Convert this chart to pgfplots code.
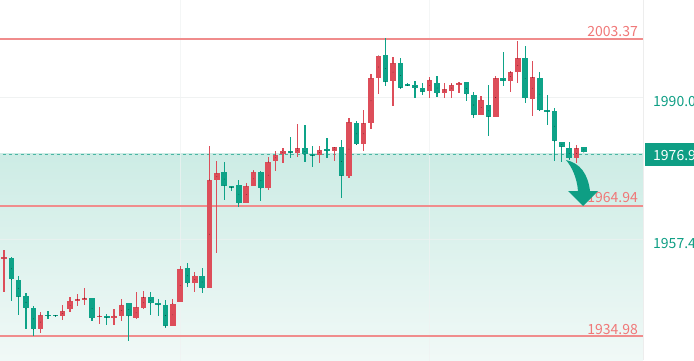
\documentclass[border=0pt]{standalone}
\usepackage{pgfplots}
\pgfplotsset{compat=1.18}
\usepackage{pgfplotstable}
\usepackage{fontspec}
\setmainfont{Noto Sans CJK SC}
\definecolor{cred}{RGB}{221,78,90}
\definecolor{cgreen}{RGB}{14,163,136}
\definecolor{lvl}{RGB}{240,140,140}
\definecolor{lvltxt}{RGB}{240,120,120}
\definecolor{teal1}{RGB}{14,158,132}
\definecolor{shtop}{RGB}{205,236,229}
\definecolor{shbot}{RGB}{241,249,247}
\definecolor{gridc}{RGB}{240,242,242}

\pgfplotstableread{
i o h l c
0 1952.64 1954.78 1945.18 1953.10
5 1936.59 1940.58 1935.60 1939.82
8 1939.66 1942.19 1938.67 1940.74
9 1941.13 1943.96 1940.51 1943.04
10 1943.11 1944.58 1941.89 1943.43
11 1943.43 1945.97 1942.12 1943.73
13 1939.36 1941.73 1937.82 1939.66
15 1939.13 1941.13 1937.58 1939.59
16 1939.59 1943.43 1938.51 1942.12
18 1939.06 1945.18 1938.90 1941.59
19 1941.36 1945.41 1941.20 1943.89
23 1937.29 1943.43 1937.29 1942.42
24 1942.88 1951.10 1942.74 1950.41
26 1947.12 1949.79 1945.18 1948.87
28 1945.97 1978.73 1945.97 1970.90
29 1970.90 1975.28 1954.02 1972.45
33 1965.54 1970.14 1965.54 1969.52
34 1969.59 1973.21 1969.52 1972.75
36 1968.99 1976.13 1968.60 1975.05
37 1975.35 1977.58 1973.04 1976.66
38 1976.82 1978.20 1974.75 1977.65
40 1977.05 1983.73 1976.27 1978.20
43 1976.66 1978.73 1974.75 1977.81
45 1977.65 1978.43 1975.35 1978.43
47 1971.89 1985.11 1971.29 1984.19
49 1979.12 1987.02 1977.65 1983.96
50 1983.96 1995.24 1982.58 1994.32
51 1994.32 1999.52 1990.64 1999.52
53 1993.77 1999.16 1988.01 1997.77
58 1991.47 1994.55 1989.72 1993.93
60 1991.00 1993.31 1989.85 1991.79
61 1991.40 1993.31 1989.72 1992.78
62 1992.78 1993.54 1990.87 1993.17
65 1985.87 1990.25 1985.87 1989.32
67 1985.48 1994.85 1985.48 1994.32
69 1993.77 1996.07 1991.10 1995.70
70 1995.70 2002.91 1993.17 1998.93
72 1989.55 1998.30 1985.71 1994.55
78 1975.90 1978.96 1974.75 1978.20
}\redtab

\pgfplotstableread{
i o h l c
1 1952.87 1953.10 1943.11 1948.04
2 1947.95 1948.80 1939.82 1944.03
3 1944.19 1944.81 1936.53 1941.36
4 1941.36 1941.89 1935.05 1936.53
6 1939.89 1940.74 1938.83 1939.59
7 1939.89 1939.93 1939.52 1939.59
12 1943.66 1943.80 1938.44 1939.06
14 1939.52 1940.05 1937.52 1939.20
17 1942.51 1942.51 1933.90 1939.59
20 1943.89 1945.11 1939.82 1942.51
21 1942.51 1943.43 1939.59 1942.12
22 1942.12 1943.27 1936.76 1937.29
25 1950.57 1951.72 1946.33 1947.12
27 1948.87 1950.57 1944.95 1945.97
30 1972.68 1974.98 1966.30 1969.59
31 1969.45 1969.45 1968.37 1969.13
32 1969.75 1970.90 1964.75 1965.54
35 1972.68 1972.98 1966.07 1968.99
39 1977.58 1980.74 1975.90 1977.19
41 1978.20 1983.57 1975.12 1976.82
42 1976.82 1978.73 1973.97 1976.50
44 1977.97 1980.51 1975.90 1977.65
46 1978.50 1980.11 1966.69 1971.89
48 1983.96 1984.49 1978.96 1979.12
52 1999.69 2003.53 1992.62 1993.54
54 1997.77 1998.93 1992.02 1992.16
55 1992.94 1993.31 1992.62 1992.62
56 1992.78 1993.70 1989.72 1992.02
57 1992.02 1993.31 1990.48 1991.23
59 1993.31 1994.92 1989.95 1990.87
63 1993.40 1993.40 1989.16 1990.64
64 1990.48 1991.10 1985.11 1985.87
66 1988.17 1992.78 1981.10 1985.48
68 1994.32 2000.31 1992.62 1993.77
71 1998.93 2001.76 1988.56 1989.72
73 1994.32 1995.70 1986.79 1987.02
74 1987.02 1990.48 1983.57 1986.72
75 1986.79 1987.41 1975.28 1979.88
76 1979.72 1979.72 1975.12 1978.57
77 1978.20 1979.58 1975.51 1975.90
79 1978.43 1978.43 1977.28 1977.28
}\greentab

\pgfplotsset{candle/.style={only marks, mark=*, mark size=0.01pt, mark options={draw=none,fill=none}, forget plot,
  /pgfplots/error bars/y dir=both, /pgfplots/error bars/y explicit, /pgfplots/error bars/error mark=none}}

\begin{document}
\begin{tikzpicture}[x=1pt,y=1pt]
\useasboundingbox (0,0) rectangle (694,360);
\begin{axis}[at={(0,0)}, anchor=south west, scale only axis,
  width=643pt, height=360pt,
  xmin=-0.545, xmax=87.06, ymin=1929.46, ymax=2012.35,
  axis line style={draw=none}, ticks=none, clip=true]
% shaded area below current price
\addplot[draw=none, top color=shtop, bottom color=shbot, forget plot]
  coordinates {(-1,1976.9) (88,1976.9) (88,1929.0) (-1,1929.0)} -- cycle;
% grid
\addplot[gridc, line width=1pt, forget plot] coordinates {(-1,1990.0) (88,1990.0)};
\addplot[gridc, line width=1pt, forget plot, opacity=0.6] coordinates {(-1,1957.3) (88,1957.3)};
\addplot[gridc, line width=1pt, forget plot, opacity=0.7] coordinates {(24,1929) (24,2013)};
\addplot[gridc, line width=1pt, forget plot, opacity=0.7] coordinates {(58,1929) (58,2013)};
% level lines
\addplot[lvl, line width=1.2pt, forget plot] coordinates {(-1,2003.37) (88,2003.37)};
\addplot[lvl, line width=1.2pt, forget plot] coordinates {(-1,1964.94) (88,1964.94)};
\addplot[lvl, line width=1.2pt, forget plot] coordinates {(-1,1934.98) (88,1934.98)};
% current price dashed
\addplot[teal1!75, line width=0.8pt, dash pattern=on 3pt off 3pt, forget plot] coordinates {(-1,1976.9) (88,1976.9)};
% wicks
\addplot[candle, /pgfplots/error bars/error bar style={line width=1.2pt, draw=cred}]
  table[x=i, y=c, y error plus expr=\thisrow{h}-\thisrow{c}, y error minus expr=\thisrow{c}-\thisrow{l}] {\redtab};
\addplot[candle, /pgfplots/error bars/error bar style={line width=1.2pt, draw=cgreen}]
  table[x=i, y=c, y error plus expr=\thisrow{h}-\thisrow{c}, y error minus expr=\thisrow{c}-\thisrow{l}] {\greentab};
% bodies
\addplot[candle, /pgfplots/error bars/error bar style={line width=5.5pt, draw=cred}]
  table[x=i, y expr=(\thisrow{o}+\thisrow{c})/2, y error expr={max(abs(\thisrow{o}-\thisrow{c})/2,0.2)}] {\redtab};
\addplot[candle, /pgfplots/error bars/error bar style={line width=5.5pt, draw=cgreen}]
  table[x=i, y expr=(\thisrow{o}+\thisrow{c})/2, y error expr={max(abs(\thisrow{o}-\thisrow{c})/2,0.2)}] {\greentab};
% level labels
\node[anchor=base east, inner sep=0pt, text=lvltxt, font=\fontsize{14}{14}\selectfont] at (axis cs:86.38,2003.37) [yshift=3pt] {2003.37};
\node[anchor=base east, inner sep=0pt, text=lvltxt, font=\fontsize{14}{14}\selectfont] at (axis cs:86.38,1964.94) [yshift=3pt] {1964.94};
\node[anchor=base east, inner sep=0pt, text=lvltxt, font=\fontsize{14}{14}\selectfont] at (axis cs:86.38,1934.98) [yshift=2pt] {1934.98};
\end{axis}
% right side
\draw[black!7, line width=1pt] (643.5,0) -- (643.5,360);
\fill[teal1] (645,194) rectangle (700,217);
\node[anchor=base west, inner sep=0pt, text=white, font=\fontsize{14}{14}\selectfont] at (653,199.5) {1976.9};
\node[anchor=base west, inner sep=0pt, text=teal1, font=\fontsize{14}{14}\selectfont] at (653,254) {1990.0};
\node[anchor=base west, inner sep=0pt, text=teal1, font=\fontsize{14}{14}\selectfont] at (653,112) {1957.4};
% arrow
\fill[teal1] (566,200) .. controls (580,197) and (588,186) .. (590,169) -- (598,169) -- (583,154) -- (568,169) -- (578,169) .. controls (577,182) and (572,193) .. (566,200) -- cycle;
\end{tikzpicture}
\end{document}
